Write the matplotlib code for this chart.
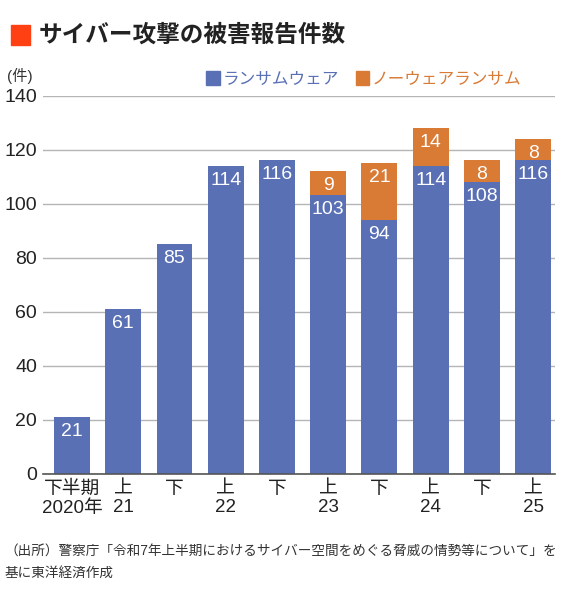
import matplotlib.pyplot as plt
from matplotlib.patches import Rectangle

plt.rcParams['font.family'] = ['Liberation Sans', 'Noto Sans CJK JP', 'DejaVu Sans']

periods = ["下半期\n2020年", "上\n21", "下", "上\n22", "下", "上\n23", "下", "上\n24", "下", "上\n25"]
ransomware = [21, 61, 85, 114, 116, 103, 94, 114, 108, 116]
noware = [0, 0, 0, 0, 0, 9, 21, 14, 8, 8]

blue = "#5a70b5"
orange = "#d97a35"

fig = plt.figure(figsize=(5.7, 6.01), dpi=100)
ax = fig.add_axes([0.075, 0.212, 0.899, 0.629])

x = range(len(periods))
ax.bar(x, ransomware, width=0.7, color=blue, zorder=2)
ax.bar(x, noware, width=0.7, bottom=ransomware, color=orange, zorder=2)

for i in x:
    r = ransomware[i]
    n = noware[i]
    ax.text(i, r - 2.2, str(r), ha="center", va="top", color="white", fontsize=14)
    if n:
        ax.text(i, r + n - 2.2, str(n), ha="center", va="top", color="white", fontsize=14)

ax.set_ylim(0, 140)
ax.set_xlim(-0.57, 9.43)
ax.set_yticks(range(0, 141, 20))
ax.set_xticks(list(x))
ax.set_xticklabels(periods, fontsize=13.5, linespacing=1.15)
ax.tick_params(axis="y", labelsize=14, length=0, pad=4, labelcolor="#222222")
ax.tick_params(axis="x", length=0, pad=5, labelcolor="#222222")
ax.yaxis.grid(True, color="#b5b5b5", linewidth=1, zorder=0)
for s in ["top", "right", "left"]:
    ax.spines[s].set_visible(False)
ax.spines["bottom"].set_color("#555555")
ax.spines["bottom"].set_linewidth(1.2)

# title
fig.patches.append(Rectangle((0.019, 0.925), 0.033, 0.033, transform=fig.transFigure,
                             color="#ff4013", figure=fig))
fig.text(0.068, 0.941, "サイバー攻撃の被害報告件数", fontsize=17, fontweight="bold",
         va="center", color="#222222")

fig.text(0.012, 0.874, "(件)", fontsize=11, va="center", color="#333333")

# legend
fig.patches.append(Rectangle((0.362, 0.858), 0.024, 0.024, transform=fig.transFigure,
                             color=blue, figure=fig))
fig.text(0.39, 0.869, "ランサムウェア", fontsize=12, va="center", color=blue)
fig.patches.append(Rectangle((0.624, 0.858), 0.024, 0.024, transform=fig.transFigure,
                             color=orange, figure=fig))
fig.text(0.652, 0.869, "ノーウェアランサム", fontsize=12, va="center", color=orange)

fig.text(0.008, 0.066, "（出所）警察庁「令和7年上半期におけるサイバー空間をめぐる脅威の情勢等について」を\n基に東洋経済作成",
         fontsize=9.8, va="center", color="#333333", linespacing=1.75)

fig.savefig("out.png", dpi=100)
